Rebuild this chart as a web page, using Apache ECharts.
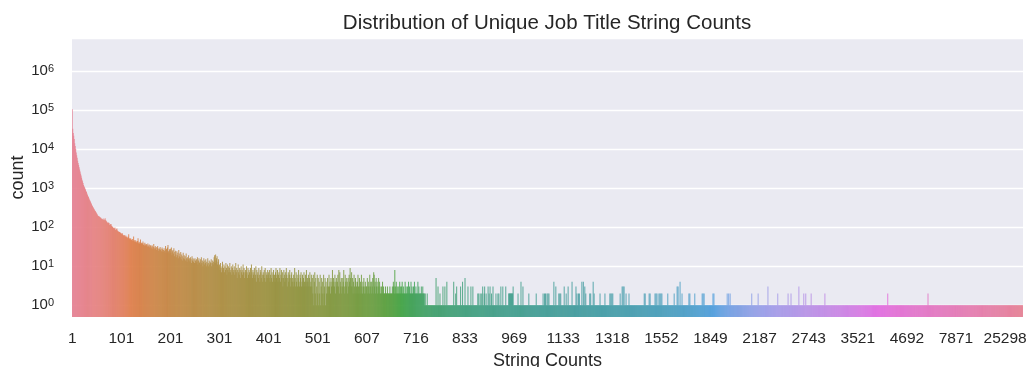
<!DOCTYPE html>
<html>
<head>
<meta charset="utf-8">
<script src="https://cdn.jsdelivr.net/npm/echarts@6/dist/echarts.min.js"></script>
<style>
  html, body { margin: 0; padding: 0; background: #ffffff; }
  #chart { width: 1032px; height: 367px; }
</style>
</head>
<body>
<div id="chart"></div>
<script>
// Tick labels shown every 100th category (the occurrence count of that category)
const tickLabels = ['1', '101', '201', '301', '401', '501', '607', '716', '833', '969',
  '1133', '1318', '1552', '1849', '2187', '2743', '3521', '4692', '7871', '25298'];

// Number of job titles per occurrence-count category, in category order.
// Categories 0-399: explicit counts.
const counts0 = [
  105000, 33000, 26000, 22000, 18000, 14000, 12000, 10000, 8200, 7000,
  6000, 5000, 4400, 3900, 3400, 3000, 2650, 2350, 2100, 1850,
  1650, 1500, 1350, 1200, 1120, 1050, 980, 920, 850, 790,
  730, 680, 630, 590, 550, 510, 480, 455, 425, 395,
  370, 350, 330, 312, 295, 282, 268, 258, 245, 233,
  222, 212, 200, 194, 190, 188, 182, 177, 173, 168,
  162, 156, 160, 166, 152, 148, 158, 168, 150, 146,
  140, 136, 128, 124, 132, 128, 116, 112, 118, 121,
  108, 104, 102, 100, 95, 90, 94, 98, 86, 82,
  88, 92, 82, 78, 77, 76, 75, 74, 72, 70
];
const counts1 = [
  69, 66, 70, 64, 62, 60, 63, 59, 56, 61,
  55, 58, 54, 52, 57, 66, 53, 50, 49, 52,
  47, 48, 45, 50, 44, 58, 46, 43, 47, 42,
  45, 41, 40, 44, 52, 39, 42, 38, 41, 48,
  37, 40, 36, 39, 43, 35, 38, 34, 40, 36,
  33, 37, 35, 32, 38, 34, 31, 36, 30, 33,
  35, 29, 32, 34, 28, 31, 37, 30, 27, 33,
  29, 31, 26, 30, 33, 28, 25, 29, 27, 31,
  26, 28, 24, 30, 27, 23, 26, 29, 25, 22,
  33, 26, 28, 22, 30, 35, 24, 21, 27, 25
];
const counts2 = [
  28, 22, 30, 19, 24, 26, 21, 29, 18, 23,
  25, 20, 17, 24, 19, 22, 16, 26, 18, 21,
  17, 23, 15, 20, 18, 14, 22, 16, 19, 15,
  18, 14, 21, 16, 13, 17, 15, 19, 14, 16,
  13, 17, 15, 12, 18, 14, 16, 13, 15, 12,
  16, 14, 12, 15, 13, 17, 11, 14, 16, 12,
  13, 15, 11, 17, 12, 14, 10, 13, 16, 11,
  14, 12, 15, 10, 13, 11, 16, 12, 10, 14,
  11, 13, 12, 15, 10, 12, 14, 11, 13, 17,
  19, 12, 20, 14, 16, 18, 11, 13, 15, 10
];
const counts3 = [
  11, 8, 12, 9, 7, 10, 13, 8, 9, 11,
  7, 10, 8, 12, 9, 6, 11, 8, 10, 7,
  9, 12, 7, 8, 10, 6, 9, 11, 7, 8,
  10, 6, 8, 12, 7, 9, 5, 8, 11, 7,
  6, 9, 8, 5, 10, 7, 8, 6, 11, 7,
  9, 5, 7, 8, 6, 10, 7, 5, 9, 6,
  8, 7, 5, 9, 6, 11, 7, 5, 8, 6,
  7, 9, 5, 6, 10, 4, 8, 6, 7, 5,
  9, 6, 4, 8, 7, 5, 10, 6, 4, 7,
  6, 8, 5, 9, 4, 7, 6, 5, 8, 6
];

// Categories 400 onward: single-digit counts, one digit per category.
const counts4 = '7584695746 8564795684 6759468573 5864759635 7468536745 3649537463 5843657346 3574364835 4635734635 2614725136';
const counts5 = '2514261352 4162351423 5236342534 8354362453 4638274352 3548326435 4253649537 3524632543 2463253426 3243523423';
const counts6 = '3524326342 4352763425 3423524322 3242322232 2232222322 2232432832 4232232423 2342232242 3223242322 4232232422';
const counts7 = '3222423222 2322322212 1112111111 1111111111 1511131112 1111131113 1114111111 1111111411 1213111111 1311141111';
const counts8 = '5111113111 1131113111 1111112121 1211213112 3112111312 1311211311 1112111212 1113111311 1113111112 2222222231';
const counts9 = '1111111121 1111411131 1111111111 2111111111 1111121111 1111111112 1121211212 1211111111 1411131111 1212121111';
const counts10 = '1131112111 3111111141 1111113121 1212111141 1411312111 1111212111 1412111111 1111121111 1111121111 1111121212';
const counts11 = '1211111111 1111112111 3131311121 1111211111 1111111111 1111111111 1111121211 1111121211 1111111212 1211121212';
const counts12 = '1211111111 1112111111 1111112111 1131311141 1121111111 1111112121 1111111121 1111111111 1112121211 1111111111';
const counts13 = '1111121211 1111111111 1111111111 1111211211 2111111111 1111111111 1111111111 1111111111 1111211111 1111111211';
const counts14 = '1111111111 1111111311 1111111111 1111111211 1111111111 1111111121 1111211111 1111111111 3111111111 2111211111';
const counts15 = '1111121111 1111111111 1111111111 1112111111 1111111111 1111111111 1111111111 1111111111 1111111111 1111111111';
const counts16 = '1111111111 1111111111 1111111111 1111111111 1111111111 1111111111 1211111111 1111111111 1111111111 1111111111';
const counts17 = '1111111111 1111111111 1111111111 1111111111 1112111111 1111111111 1111111111 1111111111 1111111111 1111111111';
const counts18 = '1111111111 1111111111 1111111111 1111111111 1111111111 1111111111 1111111111 1111111111 1111111111 1111111111';
const counts19 = '1111111111 1111111111 1111111111 1111111';

const digits = s => s.replace(/\s+/g, '').split('').map(Number);
const counts = [].concat(
  counts0, counts1, counts2, counts3,
  digits(counts4), digits(counts5), digits(counts6), digits(counts7),
  digits(counts8), digits(counts9), digits(counts10), digits(counts11),
  digits(counts12), digits(counts13), digits(counts14), digits(counts15),
  digits(counts16), digits(counts17), digits(counts18), digits(counts19)
);
const categories = counts.map((_, i) => String(i));

// ---- HUSL palette (seaborn "husl", h=.01, s=.9, l=.65) desaturated to 0.75 ----
const M = [[3.2406, -1.5372, -0.4986], [-0.9689, 1.8758, 0.0415], [0.0557, -0.2040, 1.0570]];
const REF_U = 0.19784, REF_V = 0.46834, LAB_E = 0.008856, LAB_K = 903.3;
function maxChroma(L, H) {
  const hr = H / 180 * Math.PI, sinH = Math.sin(hr), cosH = Math.cos(hr);
  const sub1 = Math.pow(L + 16, 3) / 1560896;
  const sub2 = sub1 > LAB_E ? sub1 : L / LAB_K;
  let res = Infinity;
  for (const [m1, m2, m3] of M) {
    const top = (0.99915 * m1 + 1.05122 * m2 + 1.14460 * m3) * sub2;
    const rb = 0.86330 * m3 - 0.17266 * m2;
    const lb = 0.12949 * m3 - 0.38848 * m1;
    const bottom = (rb * sinH + lb * cosH) * sub2;
    for (const t of [0, 1]) {
      const C = L * (top - 1.05122 * t) / (bottom + 0.17266 * sinH * t);
      if (C > 0 && C < res) res = C;
    }
  }
  return res;
}
function fInv(t) { return Math.pow(t, 3) > LAB_E ? Math.pow(t, 3) : (116 * t - 16) / LAB_K; }
function fromLinear(c) { return c <= 0.0031308 ? 12.92 * c : 1.055 * Math.pow(c, 1 / 2.4) - 0.055; }
function huslToRgb(H, S, L) {
  const C = maxChroma(L, H) / 100 * S;
  const hr = H / 180 * Math.PI;
  const U = Math.cos(hr) * C, V = Math.sin(hr) * C;
  const varY = fInv((L + 16) / 116);
  const varU = U / (13 * L) + REF_U, varV = V / (13 * L) + REF_V;
  const Y = varY;
  const X = -(9 * Y * varU) / ((varU - 4) * varV - varU * varV);
  const Z = (9 * Y - 15 * varV * Y - varV * X) / (3 * varV);
  return M.map(r => Math.min(1, Math.max(0, fromLinear(r[0] * X + r[1] * Y + r[2] * Z))));
}
function desaturate(rgb, f) {
  const l = (Math.max(...rgb) + Math.min(...rgb)) / 2;
  return rgb.map(c => l + (c - l) * f);
}
const N = counts.length;
const palette = counts.map((_, i) => {
  const h = ((i / N + 0.01) % 1) * 359;
  const rgb = desaturate(huslToRgb(h, 0.9 * 99, 0.65 * 99), 0.75);
  return 'rgb(' + rgb.map(c => Math.round(c * 255)).join(',') + ')';
});

const FONT = 'Liberation Sans';
const INK = '#262626';

const chart = echarts.init(document.getElementById('chart'), null, { renderer: 'canvas' });
chart.setOption({
  animation: false,
  backgroundColor: '#ffffff',
  title: {
    text: 'Distribution of Unique Job Title String Counts',
    left: 542, top: 8, textAlign: 'center',
    textStyle: { fontFamily: FONT, fontSize: 20.5, fontWeight: 'normal', color: INK }
  },
  grid: {
    left: 72, right: 9, top: 38, bottom: 50,
    show: true, backgroundColor: '#EAEAF2', borderWidth: 0,
    outerBoundsMode: 'none'
  },
  xAxis: {
    type: 'category',
    data: categories,
    name: 'String Counts',
    nameLocation: 'middle',
    nameGap: 35,
    nameTextStyle: { fontFamily: FONT, fontSize: 18, color: INK },
    axisLine: { show: false },
    axisTick: { show: false },
    splitLine: { show: false },
    axisLabel: {
      interval: idx => idx % 100 === 0,
      formatter: (v, idx) => tickLabels[idx / 100] || '',
      margin: 14,
      fontFamily: FONT, fontSize: 15.5, color: INK
    }
  },
  yAxis: {
    type: 'log',
    logBase: 10,
    min: 0.5,
    max: 7e6,
    startValue: 0.5,
    name: 'count',
    nameLocation: 'middle',
    nameGap: 45,
    nameMoveOverlap: false,
    nameTextStyle: { fontFamily: FONT, fontSize: 18, color: INK },
    axisLine: { show: false },
    axisTick: { show: false },
    splitLine: { show: true, lineStyle: { color: '#ffffff', width: 1.3 } },
    axisLabel: {
      showMinLabel: false,
      showMaxLabel: false,
      margin: 18,
      formatter: v => '{b|10}{s|' + Math.round(Math.log10(v)) + '}',
      rich: {
        b: { fontFamily: FONT, fontSize: 15, color: INK, lineHeight: 15, verticalAlign: 'bottom' },
        s: { fontFamily: FONT, fontSize: 11, color: INK, lineHeight: 11, verticalAlign: 'top', padding: [0, 0, 12, 0] }
      }
    }
  },
  series: [{
    type: 'bar',
    data: counts,
    barCategoryGap: '20%',
    itemStyle: { color: p => palette[p.dataIndex], opacity: 0.88 }
  }]
});
</script>
</body>
</html>
